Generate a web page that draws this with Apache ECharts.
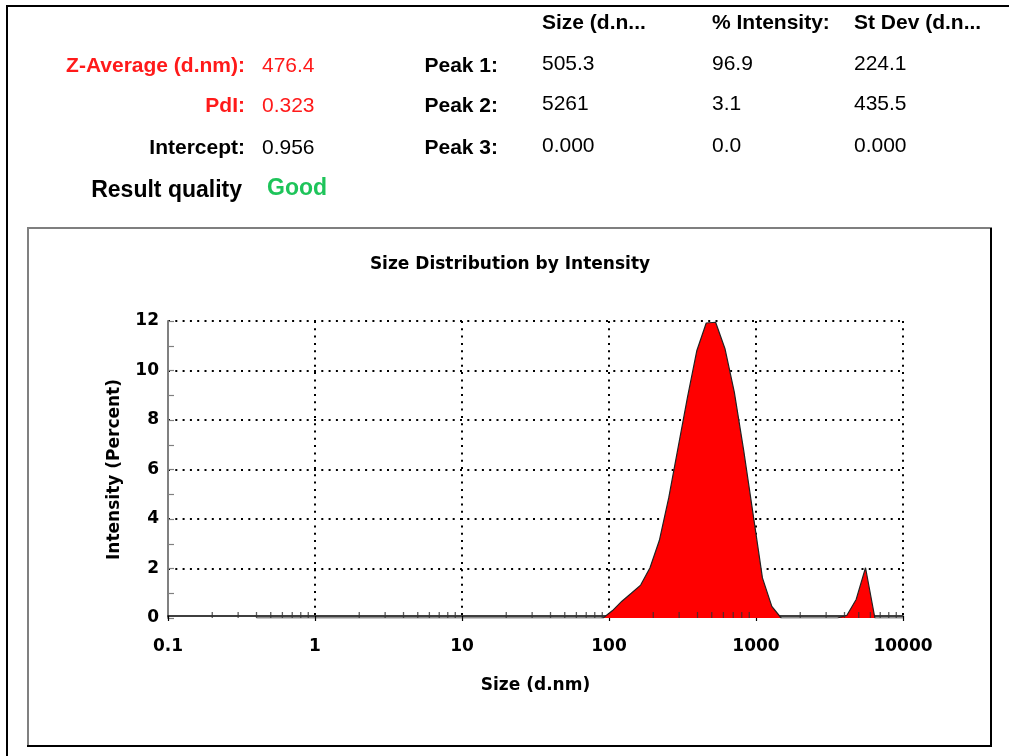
<!DOCTYPE html>
<html>
<head>
<meta charset="utf-8">
<script src="https://cdn.jsdelivr.net/npm/echarts@6/dist/echarts.min.js"></script>
<style>
html,body{margin:0;padding:0;background:#fff;}
#chart{width:1009px;height:756px;}
</style>
</head>
<body>
<div id="chart"></div>
<script>
// ---------- data ----------
const SIZES = [0.4, 0.4632, 0.5365, 0.6213, 0.7195, 0.8332, 0.9649, 1.117, 1.294, 1.499,
  1.736, 2.010, 2.328, 2.696, 3.122, 3.615, 4.187, 4.849, 5.615, 6.503,
  7.531, 8.721, 10.10, 11.70, 13.54, 15.69, 18.17, 21.04, 24.36, 28.21,
  32.67, 37.84, 43.82, 50.75, 58.77, 68.06, 78.82, 91.28, 105.7, 122.4,
  141.8, 164.2, 190.1, 220.2, 255.0, 295.3, 342.0, 396.1, 458.7, 531.2,
  615.1, 712.4, 825.0, 955.4, 1106, 1281, 1484, 1718, 1990, 2305,
  2669, 3091, 3580, 4145, 4801, 5560, 6439, 7456, 8635, 10000];
const INTENSITY = [0, 0, 0, 0, 0, 0, 0, 0, 0, 0,
  0, 0, 0, 0, 0, 0, 0, 0, 0, 0,
  0, 0, 0, 0, 0, 0, 0, 0, 0, 0,
  0, 0, 0, 0, 0, 0, 0, 0, 0.3, 0.68,
  1.0, 1.33, 2.03, 3.14, 4.86, 6.89, 8.92, 10.81, 11.92, 11.95,
  10.88, 9.12, 6.76, 4.2, 1.62, 0.47, 0, 0, 0, 0,
  0, 0, 0, 0.1, 0.75, 2.03, 0, 0, 0, 0];

const X_TICK_LABELS = ['0.1', '1', '10', '100', '1000', '10000'];
const DECADES = [0.1, 1, 10, 100, 1000];
const MINOR_MULTIPLIERS = [2, 3, 4, 5, 6, 7, 8, 9];

const TITLE = 'Size Distribution by Intensity';
const X_NAME = 'Size (d.nm)';
const Y_NAME = 'Intensity (Percent)';

const HEADER_COLS = ['Size (d.n...', '% Intensity:', 'St Dev (d.n...'];
const LEFT_LABELS = ['Z-Average (d.nm):', 'PdI:', 'Intercept:'];
const LEFT_VALUES = ['476.4', '0.323', '0.956'];
const PEAK_LABELS = ['Peak 1:', 'Peak 2:', 'Peak 3:'];
const PEAK_SIZE = ['505.3', '5261', '0.000'];
const PEAK_INTENSITY = ['96.9', '3.1', '0.0'];
const PEAK_STDEV = ['224.1', '435.5', '0.000'];
const QUALITY_LABEL = 'Result quality';
const QUALITY_VALUE = 'Good';

// ---------- build ----------
const seriesData = SIZES.map((s, i) => [s, INTENSITY[i]]);
const minorTicks = [];
DECADES.forEach(d => MINOR_MULTIPLIERS.forEach(m => minorTicks.push([m * d, 0])));

const HF = '"Liberation Sans", Arial, sans-serif';
const CF = '"DejaVu Sans", sans-serif';
const RED = '#ff1a1a';

function txt(x, y, text, align, font, fill) {
  return {
    type: 'text', x: x, y: y, silent: true,
    style: { text: text, align: align, textAlign: align, verticalAlign: 'middle', textVerticalAlign: 'middle', font: font, fill: fill }
  };
}
function line(x1, y1, x2, y2, color, w) {
  return { type: 'line', silent: true, shape: { x1, y1, x2, y2 }, style: { stroke: color, lineWidth: w } };
}

const graphics = [];
// frames
graphics.push(line(6, 6, 1009, 6, '#000', 2));
graphics.push(line(7, 6, 7, 756, '#000', 2));
graphics.push(line(27, 228, 992, 228, '#555', 1.5));
graphics.push(line(28, 228, 28, 747, '#808080', 2));
graphics.push(line(991, 228, 991, 747, '#000', 2));
graphics.push(line(27, 746, 992, 746, '#000', 2));

// header table
const colX = [542, 712, 854];
const rowY = [66, 106, 148];
HEADER_COLS.forEach((t, i) => graphics.push(txt(colX[i], 23, t, 'left', 'bold 21px ' + HF, '#000')));
LEFT_LABELS.forEach((t, i) => graphics.push(txt(245, rowY[i], t, 'right', 'bold 21px ' + HF, i < 2 ? RED : '#000')));
LEFT_VALUES.forEach((t, i) => graphics.push(txt(262, rowY[i], t, 'left', '21px ' + HF, i < 2 ? RED : '#000')));
PEAK_LABELS.forEach((t, i) => graphics.push(txt(498, rowY[i], t, 'right', 'bold 21px ' + HF, '#000')));
[PEAK_SIZE, PEAK_INTENSITY, PEAK_STDEV].forEach((col, c) =>
  col.forEach((t, i) => graphics.push(txt(colX[c], rowY[i] - 2, t, 'left', '21px ' + HF, '#000'))));
graphics.push(txt(242, 191, QUALITY_LABEL, 'right', 'bold 23px ' + HF, '#000'));
graphics.push(txt(267, 189, QUALITY_VALUE, 'left', 'bold 23px ' + HF, '#1ec45a'));

const chart = echarts.init(document.getElementById('chart'), null, { renderer: 'canvas' });
const option = {
  animation: false,
  backgroundColor: '#fff',
  title: {
    text: TITLE, left: 510, top: 256, textAlign: 'center', padding: 0,
    textStyle: { fontFamily: CF, fontWeight: 'bold', fontSize: 17, color: '#000' }
  },
  grid: { left: 168, right: 106, top: 321, bottom: 138, containLabel: false },
  xAxis: {
    type: 'log', logBase: 10, min: 0.1, max: 10000,
    offset: -2,
    axisLine: { onZero: false, lineStyle: { color: '#000', width: 1.5 } },
    axisTick: { show: true, inside: false, length: 5, lineStyle: { color: '#000', width: 1.2 } },
    axisLabel: {
      margin: 22, fontFamily: CF, fontWeight: 'bold', fontSize: 17, color: '#000',
      formatter: function (v) { const i = Math.round(Math.log10(v)) + 1; return X_TICK_LABELS[i] ?? ''; }
    },
    splitLine: { show: true, showMinLine: false, lineStyle: { color: '#000', type: [2, 5.3], width: 2 } },
    name: X_NAME, nameLocation: 'middle', nameGap: 61,
    nameTextStyle: { fontFamily: CF, fontWeight: 'bold', fontSize: 17, color: '#000' }
  },
  yAxis: {
    type: 'value', min: 0, max: 12, interval: 2,
    axisLine: { show: true, lineStyle: { color: '#808080', width: 2 } },
    axisTick: { show: true, inside: true, length: 6, lineStyle: { color: '#808080', width: 1.2 } },
    minorTick: { show: true, splitNumber: 2, length: 6, lineStyle: { color: '#808080', width: 1.2 } },
    axisLabel: { margin: 9, padding: [5, 0, 0, 0], fontFamily: CF, fontWeight: 'bold', fontSize: 17, color: '#000' },
    splitLine: { show: true, showMinLine: false, lineStyle: { color: '#000', type: [2, 5.3], width: 2 } },
    name: Y_NAME, nameLocation: 'middle', nameGap: 45,
    nameTextStyle: { fontFamily: CF, fontWeight: 'bold', fontSize: 17, color: '#000' }
  },
  series: [
    {
      type: 'line', data: seriesData, symbol: 'none', showSymbol: false, smooth: false,
      lineStyle: { color: '#222', width: 1.2 },
      areaStyle: { color: '#ff0000', opacity: 1 },
      itemStyle: { color: '#ff0000' },
      z: 3, silent: true
    },
    {
      type: 'scatter', data: minorTicks, symbol: 'rect', symbolSize: [1.3, 6], symbolOffset: [0, -3],
      itemStyle: { color: '#333' }, silent: true, clip: false, z: 4
    }
  ],
  graphic: graphics
};
chart.setOption(option);
</script>
</body>
</html>
